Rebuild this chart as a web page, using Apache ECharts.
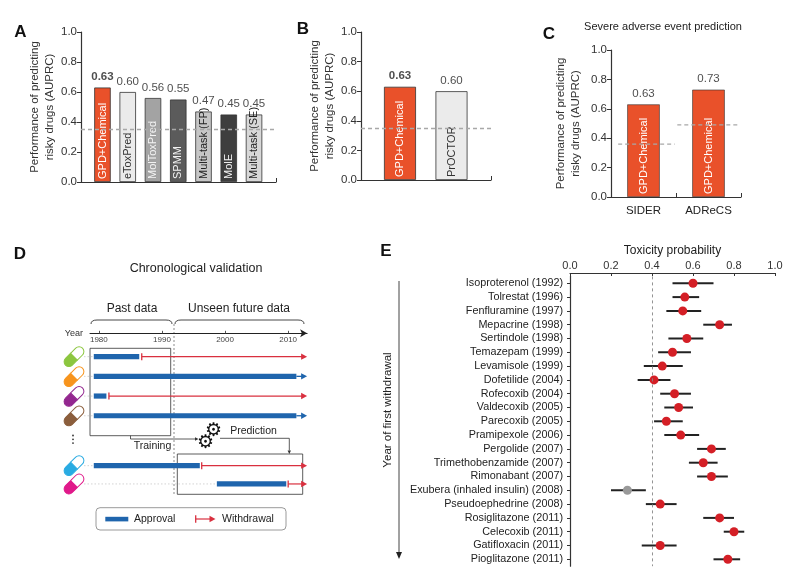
<!DOCTYPE html>
<html>
<head>
<meta charset="utf-8">
<title>Risky drug prediction</title>
<script src="https://cdn.jsdelivr.net/npm/echarts@6/dist/echarts.min.js"></script>
<style>
  html, body { margin: 0; padding: 0; background: #fff; }
  #chart { width: 788px; height: 580px; }
</style>
</head>
<body>
<div id="chart"></div>
<script>
// ---- data ----
const modelsA = ['GPD+Chemical', 'eToxPred', 'MolToxPred', 'SPMM', 'Multi-task (FP)', 'MolE', 'Multi-task (SE)'];
const auprcA = [0.63, 0.60, 0.56, 0.55, 0.47, 0.45, 0.45];
const baselineA = 0.35;

const modelsB = ['GPD+Chemical', 'PrOCTOR'];
const auprcB = [0.63, 0.60];
const baselineB = 0.35;

const datasetsC = ['SIDER', 'ADReCS'];
const modelsC = ['GPD+Chemical', 'GPD+Chemical'];
const auprcC = [0.63, 0.73];
const baselineC = [0.36, 0.49];

const timelineTicks = [1980, 1990, 2000, 2010];
const approvalStart = [1979.2, 1979.2, 1979.2, 1979.2, 1979.2, 1998.7];
const approvalEnd = [1986.4, 2011.3, 1981.2, 2011.3, 1996.0, 2009.7];
const withdrawalYear = [1986.8, null, 1981.6, null, 1996.3, 2010.0];

const drugs = ['Isoproterenol', 'Tolrestat', 'Fenfluramine', 'Mepacrine', 'Sertindole', 'Temazepam',
  'Levamisole', 'Dofetilide', 'Rofecoxib', 'Valdecoxib', 'Parecoxib', 'Pramipexole', 'Pergolide',
  'Trimethobenzamide', 'Rimonabant', 'Exubera (inhaled insulin)', 'Pseudoephedrine', 'Rosiglitazone',
  'Celecoxib', 'Gatifloxacin', 'Pioglitazone'];
const withdrawnIn = [1992, 1996, 1997, 1998, 1998, 1999, 1999, 2004, 2004, 2005, 2005, 2006, 2007,
  2007, 2007, 2008, 2008, 2011, 2011, 2011, 2011];
const toxMean = [0.60, 0.56, 0.55, 0.73, 0.57, 0.50, 0.45, 0.41, 0.51, 0.53, 0.47, 0.54, 0.69,
  0.65, 0.69, 0.28, 0.44, 0.73, 0.80, 0.44, 0.77];
const toxLow = [0.50, 0.50, 0.47, 0.65, 0.48, 0.43, 0.36, 0.33, 0.44, 0.46, 0.41, 0.46, 0.62,
  0.58, 0.62, 0.20, 0.37, 0.65, 0.75, 0.35, 0.70];
const toxHigh = [0.70, 0.63, 0.64, 0.79, 0.65, 0.59, 0.55, 0.49, 0.59, 0.60, 0.55, 0.63, 0.76,
  0.72, 0.77, 0.37, 0.52, 0.80, 0.85, 0.52, 0.83];
const toxThreshold = 0.4;

// ---- styles ----
const FONT = '"Liberation Sans", Arial, Helvetica, sans-serif';
const ORANGE = '#e9512a';
const BLUE = '#1f65ad';
const RED = '#d9303f';
const DOT_RED = '#d41f26';
const AXIS = '#333';
const barColorsA = [ORANGE, '#ebebeb', '#a3a3a3', '#5b5b5b', '#c6c6c6', '#3e3e3e', '#d8d8d8'];
const labelColorsA = ['#fff', '#333', '#f4f4f4', '#f4f4f4', '#222', '#f4f4f4', '#222'];
const barColorsB = [ORANGE, '#ebebeb'];
const labelColorsB = ['#fff', '#333'];
const pillColors = ['#8cc63f', '#f7941d', '#93278f', '#8b5e3c', '#29abe2', '#e0198a'];

const chart = echarts.init(document.getElementById('chart'), null, { renderer: 'canvas' });

function perfAxis(grid, gap) {
  return {
    type: 'value', gridIndex: grid, min: 0, max: 1, interval: 0.2,
    name: 'Performance of predicting\nrisky drugs (AUPRC)',
    nameLocation: 'middle', nameGap: gap, nameRotate: 90,
    nameTextStyle: { fontFamily: FONT, fontSize: 11.5, color: '#333', lineHeight: 15 },
    axisLine: { show: true, onZero: false, lineStyle: { color: AXIS, width: 1.2 } },
    axisTick: { show: true, length: 4, lineStyle: { color: AXIS } },
    axisLabel: { fontFamily: FONT, fontSize: 11.5, color: '#333', margin: 4, formatter: v => v.toFixed(1) },
    splitLine: { show: false }
  };
}

function flatX(grid, min, max) {
  return {
    type: 'value', gridIndex: grid, min: min, max: max,
    axisLine: { show: true, onZero: false, lineStyle: { color: AXIS, width: 1.2 } },
    axisTick: { show: true, inside: true, length: 4, customValues: [max], lineStyle: { color: AXIS } },
    axisLabel: { show: false }, splitLine: { show: false }
  };
}

function dashedBase(v) {
  return {
    silent: true, symbol: 'none', label: { show: false },
    lineStyle: { type: [4, 3], color: '#a8a8a8', width: 1.3 },
    data: [{ yAxis: v }]
  };
}

function nameBars(xi, yi, models, values, colors, labelColors, width, base) {
  return {
    type: 'bar', xAxisIndex: xi, yAxisIndex: yi, barWidth: width,
    data: values.map((v, i) => ({
      name: models[i], value: [i, v],
      itemStyle: { color: colors[i], borderColor: '#333', borderWidth: 0.8 },
      label: { color: labelColors[i] }
    })),
    label: {
      show: true, position: 'insideBottom', rotate: 90, align: 'left', verticalAlign: 'middle',
      distance: 3, fontFamily: FONT, fontSize: 11, formatter: p => p.name
    },
    markLine: dashedBase(base),
    z: 2
  };
}

function valueLabels(xi, yi, values, boldFirst) {
  return {
    type: 'scatter', xAxisIndex: xi, yAxisIndex: yi, symbolSize: 1, silent: true,
    itemStyle: { color: 'rgba(0,0,0,0)' },
    data: values.map((v, i) => ({
      value: [i, v],
      label: { fontWeight: boldFirst && i === 0 ? 'bold' : 'normal' }
    })),
    label: {
      show: true, position: 'top', distance: 4, fontFamily: FONT, fontSize: 11.5, color: '#222',
      formatter: p => p.value[1].toFixed(2)
    },
    z: 3
  };
}

// timeline rows drawn through the year axis
function timelineSeries(xi, yi, first, count) {
  const idx = [];
  for (let i = first; i < first + count; i++) idx.push(i);
  return {
    type: 'custom', xAxisIndex: xi, yAxisIndex: yi, silent: true, clip: false,
    data: idx.map((i, r) => [approvalStart[i], r, approvalEnd[i]]),
    encode: { x: [0, 2], y: 1 },
    renderItem: (params, api) => {
      const i = first + params.dataIndex;
      const row = api.value(1);
      const s = api.coord([api.value(0), row]);
      const e = api.coord([api.value(2), row]);
      const left = api.coord([1978.6, row])[0] - 6;
      const tip = api.coord([2013, row])[0];
      const y = s[1];
      const kids = [
        { type: 'line', shape: { x1: left, y1: y, x2: s[0], y2: y },
          style: { stroke: '#c8c8c8', lineWidth: 0.8, lineDash: [1.5, 2] } },
        { type: 'rect', shape: { x: s[0], y: y - 2.6, width: e[0] - s[0], height: 5.2 }, style: { fill: BLUE } }
      ];
      const w = withdrawalYear[i];
      if (w != null) {
        const wx = api.coord([w, row])[0];
        kids.push(
          { type: 'line', shape: { x1: wx, y1: y - 3.5, x2: wx, y2: y + 3.5 }, style: { stroke: RED, lineWidth: 1.3 } },
          { type: 'line', shape: { x1: wx, y1: y, x2: tip - 4, y2: y }, style: { stroke: RED, lineWidth: 1.2 } },
          { type: 'polygon', shape: { points: [[tip, y], [tip - 6, y - 3.2], [tip - 6, y + 3.2]] }, style: { fill: RED } }
        );
      } else {
        kids.push(
          { type: 'line', shape: { x1: e[0], y1: y, x2: tip - 4, y2: y }, style: { stroke: BLUE, lineWidth: 1.3 } },
          { type: 'polygon', shape: { points: [[tip, y], [tip - 6, y - 3.2], [tip - 6, y + 3.2]] }, style: { fill: BLUE } }
        );
      }
      return { type: 'group', children: kids };
    }
  };
}

function pill(cx, cy, color) {
  return {
    type: 'group', x: cx, y: cy, rotation: Math.PI / 4, silent: true,
    children: [
      { type: 'rect', shape: { x: -12, y: -4.8, width: 12, height: 9.6, r: [4.8, 0, 0, 4.8] },
        style: { fill: color, stroke: color, lineWidth: 1 } },
      { type: 'rect', shape: { x: 0, y: -4.8, width: 12, height: 9.6, r: [0, 4.8, 4.8, 0] },
        style: { fill: '#fff', stroke: color, lineWidth: 1 } }
    ]
  };
}

function txt(x, y, text, size, style) {
  return {
    type: 'text', x: x, y: y, silent: true,
    style: Object.assign({ text: text, fontFamily: FONT, fontSize: size, fill: '#222', align: 'center', verticalAlign: 'middle' }, style || {})
  };
}

function seg(x1, y1, x2, y2) {
  return { type: 'line', silent: true, shape: { x1: x1, y1: y1, x2: x2, y2: y2 }, style: { stroke: '#333', lineWidth: 0.8 } };
}

function brace(x1, x2, y) {
  const st = { fill: 'none', stroke: '#333', lineWidth: 0.9 };
  return [
    { type: 'bezierCurve', silent: true, shape: { x1: x1, y1: y + 4, cpx1: x1, cpy1: y, x2: x1 + 6, y2: y }, style: st },
    { type: 'line', silent: true, shape: { x1: x1 + 6, y1: y, x2: x2 - 6, y2: y }, style: st },
    { type: 'bezierCurve', silent: true, shape: { x1: x2 - 6, y1: y, cpx1: x2, cpy1: y, x2: x2, y2: y + 4 }, style: st }
  ];
}

function tri(points, fill) {
  return { type: 'polygon', silent: true, shape: { points: points }, style: { fill: fill } };
}

const pillRowsY = [356.7, 376.7, 396.3, 415.9, 465.6, 484.0];
const LETTER = { fontWeight: 'bold', fill: '#111' };

const graphics = [
  txt(20.5, 32, 'A', 17, LETTER),
  txt(303, 29, 'B', 17, LETTER),
  txt(549, 34, 'C', 17, LETTER),
  txt(20, 254, 'D', 17, LETTER),
  txt(386, 251, 'E', 17, LETTER),
  txt(663, 27, 'Severe adverse event prediction', 11),

  // panel D
  txt(196, 269, 'Chronological validation', 12.5),
  txt(132, 309, 'Past data', 12),
  txt(239, 309, 'Unseen future data', 12),
  { type: 'rect', silent: true, shape: { x: 90, y: 348.3, width: 80.7, height: 87.4 },
    style: { fill: 'none', stroke: '#333', lineWidth: 0.8 } },
  { type: 'rect', silent: true, shape: { x: 177.3, y: 454, width: 125.4, height: 40.3 },
    style: { fill: 'none', stroke: '#333', lineWidth: 0.8 } },
  { type: 'line', silent: true, shape: { x1: 174, y1: 324, x2: 174, y2: 494 },
    style: { stroke: '#a0a0a0', lineWidth: 1.2, lineDash: [2, 2] } },
  { type: 'circle', silent: true, shape: { cx: 73, cy: 435.5, r: 0.9 }, style: { fill: '#333' } },
  { type: 'circle', silent: true, shape: { cx: 73, cy: 439.3, r: 0.9 }, style: { fill: '#333' } },
  { type: 'circle', silent: true, shape: { cx: 73, cy: 443.1, r: 0.9 }, style: { fill: '#333' } },
  seg(130.5, 435.7, 130.5, 439),
  seg(130.5, 439, 195, 439),
  tri([[198.5, 439], [195, 437.3], [195, 440.7]], '#333'),
  txt(152.5, 446, 'Training', 10.5),
  txt(213.5, 431, '\u2699', 19, { fontFamily: 'DejaVu Sans', fill: '#111' }),
  txt(205.5, 443, '\u2699', 19, { fontFamily: 'DejaVu Sans', fill: '#111' }),
  seg(220, 438.3, 289.3, 438.3),
  seg(289.3, 438.3, 289.3, 450.5),
  tri([[289.3, 454], [287.6, 450.5], [291, 450.5]], '#333'),
  txt(253.5, 431, 'Prediction', 10.5),

  // panel D legend
  { type: 'rect', silent: true, shape: { x: 96, y: 507.7, width: 190, height: 22.3, r: 4 },
    style: { fill: '#fff', stroke: '#9a9a9a', lineWidth: 1 } },
  { type: 'rect', silent: true, shape: { x: 105.3, y: 516.8, width: 23, height: 4.6 }, style: { fill: BLUE } },
  txt(134, 519, 'Approval', 10.5, { align: 'left' }),
  { type: 'line', silent: true, shape: { x1: 195.7, y1: 515.3, x2: 195.7, y2: 522.8 }, style: { stroke: RED, lineWidth: 1.3 } },
  { type: 'line', silent: true, shape: { x1: 195.7, y1: 519, x2: 211, y2: 519 }, style: { stroke: RED, lineWidth: 1.2 } },
  tri([[215.5, 519], [209.5, 515.8], [209.5, 522.2]], RED),
  txt(222, 519, 'Withdrawal', 10.5, { align: 'left' }),

  // panel E side arrow
  { type: 'line', silent: true, shape: { x1: 399, y1: 281, x2: 399, y2: 553 }, style: { stroke: '#444', lineWidth: 1 } },
  tri([[399, 559], [396, 552], [402, 552]], '#222'),
  { type: 'text', silent: true, x: 388, y: 410, rotation: Math.PI / 2,
    style: { text: 'Year of first withdrawal', fontFamily: FONT, fontSize: 11.5, fill: '#222', align: 'center', verticalAlign: 'middle' } }
].concat(brace(91, 172, 320), brace(175, 304, 320))
 .concat(pillRowsY.map((y, i) => pill(74, y, pillColors[i])));

const seriesList = [
  nameBars(0, 0, modelsA, auprcA, barColorsA, labelColorsA, 16.5, baselineA),
  valueLabels(0, 0, auprcA, true),
  nameBars(1, 1, modelsB, auprcB, barColorsB, labelColorsB, 32, baselineB),
  valueLabels(1, 1, auprcB, true),
  {
    type: 'bar', xAxisIndex: 2, yAxisIndex: 2, barWidth: 32.5,
    data: auprcC.map((v, i) => ({ value: v, name: modelsC[i] })),
    itemStyle: { color: ORANGE, borderColor: '#333', borderWidth: 0.6 },
    label: {
      show: true, position: 'insideBottom', rotate: 90, align: 'left', verticalAlign: 'middle',
      distance: 3, fontFamily: FONT, fontSize: 11, color: '#fff', formatter: p => modelsC[p.dataIndex]
    }
  },
  valueLabels(2, 2, auprcC, false)
];

baselineC.forEach((b, i) => {
  seriesList.push({
    type: 'line', xAxisIndex: 3, yAxisIndex: 2, silent: true, showSymbol: false, symbol: 'none',
    data: [[i + (i === 0 ? 0.11 : 0.02), b], [i + 0.98, b]],
    lineStyle: { type: [4, 3], color: '#a8a8a8', width: 1.3 }, z: 3
  });
});

seriesList.push(
  timelineSeries(4, 3, 0, 4),
  timelineSeries(5, 4, 4, 2),
  {
    type: 'custom', xAxisIndex: 6, yAxisIndex: 5, silent: true,
    data: drugs.map((d, i) => [toxLow[i], i, toxHigh[i]]),
    encode: { x: [0, 2], y: 1 },
    renderItem: (params, api) => {
      const a = api.coord([api.value(0), api.value(1)]);
      const b = api.coord([api.value(2), api.value(1)]);
      return { type: 'line', shape: { x1: a[0], y1: a[1], x2: b[0], y2: b[1] }, style: { stroke: '#222', lineWidth: 2 } };
    },
    z: 2
  },
  {
    type: 'scatter', xAxisIndex: 6, yAxisIndex: 5, symbolSize: 9, silent: true,
    data: toxMean.map((m, i) => ({ value: [m, i], itemStyle: { color: m > toxThreshold ? DOT_RED : '#999' } })),
    itemStyle: { opacity: 1 },
    markLine: {
      silent: true, symbol: 'none', label: { show: false },
      lineStyle: { type: [3, 3], color: '#888', width: 0.9 },
      data: [{ xAxis: toxThreshold }]
    },
    z: 3
  }
);

const option = {
  backgroundColor: '#fff',
  animation: false,
  textStyle: { fontFamily: FONT },
  grid: [
    { left: 81, top: 32, width: 195, height: 150 },          // A
    { left: 361, top: 32, width: 130, height: 148 },         // B
    { left: 611, top: 50, width: 130, height: 147 },         // C
    { left: 90, top: 346.8, width: 217.1, height: 78.8 },    // D top rows
    { left: 90, top: 456.5, width: 217.1, height: 36.6 },    // D bottom rows
    { left: 570, top: 276.4, width: 205, height: 289.8 }     // E
  ],
  xAxis: [
    flatX(0, -0.85, 6.87),
    flatX(1, -0.757, 1.767),
    {
      type: 'category', gridIndex: 2, data: datasetsC,
      axisLine: { show: true, lineStyle: { color: AXIS, width: 1.2 } },
      axisTick: { show: true, inside: true, length: 4, lineStyle: { color: AXIS } },
      axisLabel: { fontFamily: FONT, fontSize: 11.5, color: '#222', margin: 8 }
    },
    { type: 'value', gridIndex: 2, min: 0, max: 2, show: false },
    {
      type: 'value', gridIndex: 3, min: 1978.6, max: 2013, position: 'top', offset: 13.5,
      name: 'Year', nameLocation: 'start', nameGap: 7,
      nameTextStyle: { fontFamily: FONT, fontSize: 9, color: '#333' },
      axisLine: { show: true, onZero: false, symbol: ['none', 'arrow'], symbolSize: [6, 7], lineStyle: { color: '#222', width: 1 } },
      axisTick: { show: true, length: 2.5, customValues: timelineTicks, lineStyle: { color: '#555' } },
      axisLabel: { show: true, inside: true, margin: 2, customValues: timelineTicks, fontFamily: FONT, fontSize: 8, color: '#444', formatter: v => String(v) },
      splitLine: { show: false }
    },
    { type: 'value', gridIndex: 4, min: 1978.6, max: 2013, show: false },
    {
      type: 'value', gridIndex: 5, min: 0, max: 1, interval: 0.2, position: 'top', offset: 3.4,
      name: 'Toxicity probability', nameLocation: 'middle', nameGap: 16,
      nameTextStyle: { fontFamily: FONT, fontSize: 12, color: '#222' },
      axisLine: { show: true, onZero: false, lineStyle: { color: AXIS, width: 1.2 } },
      axisTick: { show: true, inside: true, length: 3, lineStyle: { color: AXIS } },
      axisLabel: { fontFamily: FONT, fontSize: 11, color: '#333', margin: 2, formatter: v => v.toFixed(1) },
      splitLine: { show: false }
    }
  ],
  yAxis: [
    perfAxis(0, 24),
    perfAxis(1, 21),
    perfAxis(2, 28),
    { type: 'category', gridIndex: 3, data: ['r1', 'r2', 'r3', 'r4'], inverse: true, show: false },
    { type: 'category', gridIndex: 4, data: ['r5', 'r6'], inverse: true, show: false },
    {
      type: 'category', gridIndex: 5, inverse: true,
      data: drugs.map((d, i) => `${d} (${withdrawnIn[i]})`),
      axisLine: { show: true, lineStyle: { color: AXIS, width: 1.2 } },
      axisTick: { show: true, alignWithLabel: true, interval: 0, length: 3, lineStyle: { color: AXIS } },
      axisLabel: { interval: 0, fontFamily: FONT, fontSize: 10.8, color: '#222', margin: 7 }
    }
  ],
  series: seriesList,
  graphic: graphics
};

chart.setOption(option);
</script>
</body>
</html>
